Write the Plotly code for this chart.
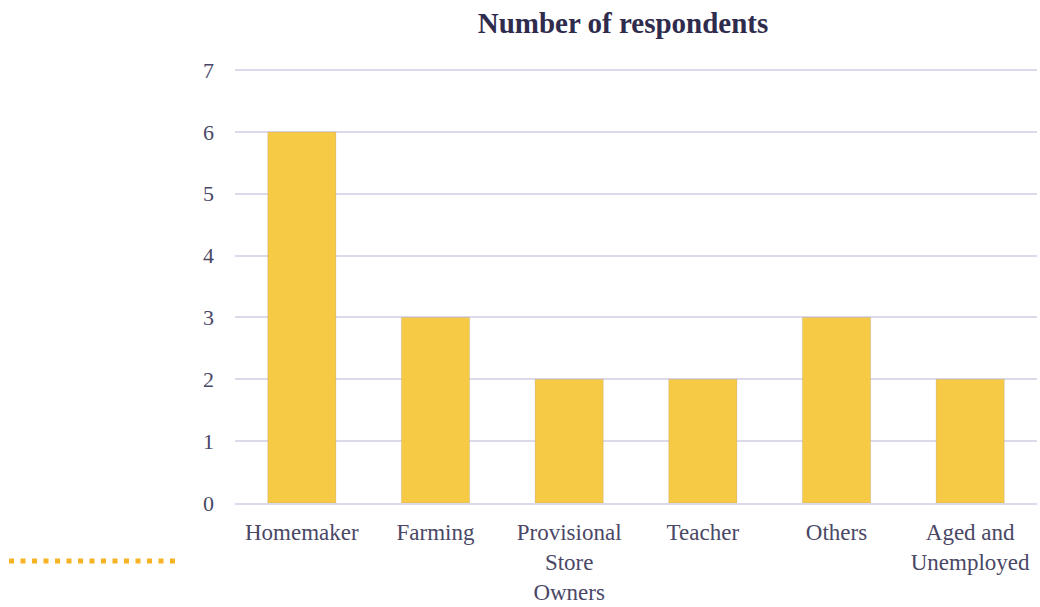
import plotly.graph_objects as go

# Occupation categories and respondent counts
categories = [
    "Homemaker",
    "Farming",
    "Provisional<br>Store<br>Owners",
    "Teacher",
    "Others",
    "Aged and<br>Unemployed",
]
respondents = [6, 3, 2, 2, 3, 2]
y_ticks = [0, 1, 2, 3, 4, 5, 6, 7]

serif = "Liberation Serif, Times New Roman, serif"
text_color = "#4a4766"
grid_color = "#dcdaea"

fig = go.Figure(
    go.Bar(
        x=categories,
        y=respondents,
        width=0.51,
        marker=dict(
            color="#f7ca46",
            line=dict(color="rgba(120,110,140,0.18)", width=1),
        ),
    )
)

fig.update_layout(
    width=1040,
    height=607,
    margin=dict(l=235, r=3, t=67, b=104),
    paper_bgcolor="white",
    plot_bgcolor="white",
    showlegend=False,
    title=dict(
        text="<b>Number of respondents</b>",
        x=623 / 1040,
        xanchor="center",
        y=1 - 23 / 607,
        yanchor="middle",
        font=dict(family=serif, size=29, color="#2f2b4d"),
    ),
    font=dict(family=serif, size=23, color=text_color),
    shapes=[
        # dotted accent rule in the lower-left corner
        dict(
            type="line",
            xref="paper",
            yref="paper",
            x0=-226 / 802,
            x1=-60 / 802,
            y0=-58 / 436,
            y1=-58 / 436,
            line=dict(color="#f6b323", width=5, dash="5px,6.5px"),
        )
    ],
)

fig.update_xaxes(
    showgrid=False,
    showline=True,
    linecolor=grid_color,
    linewidth=1.5,
    ticks="",
    ticklabelstandoff=8,
    tickfont=dict(family=serif, size=23, color=text_color),
)
fig.update_yaxes(
    range=[0, 7.05],
    tickvals=y_ticks,
    showgrid=True,
    gridcolor=grid_color,
    gridwidth=1.5,
    zeroline=False,
    ticks="",
    ticklabelstandoff=20,
    tickfont=dict(family=serif, size=22, color=text_color),
)

fig.write_html("out.html")
